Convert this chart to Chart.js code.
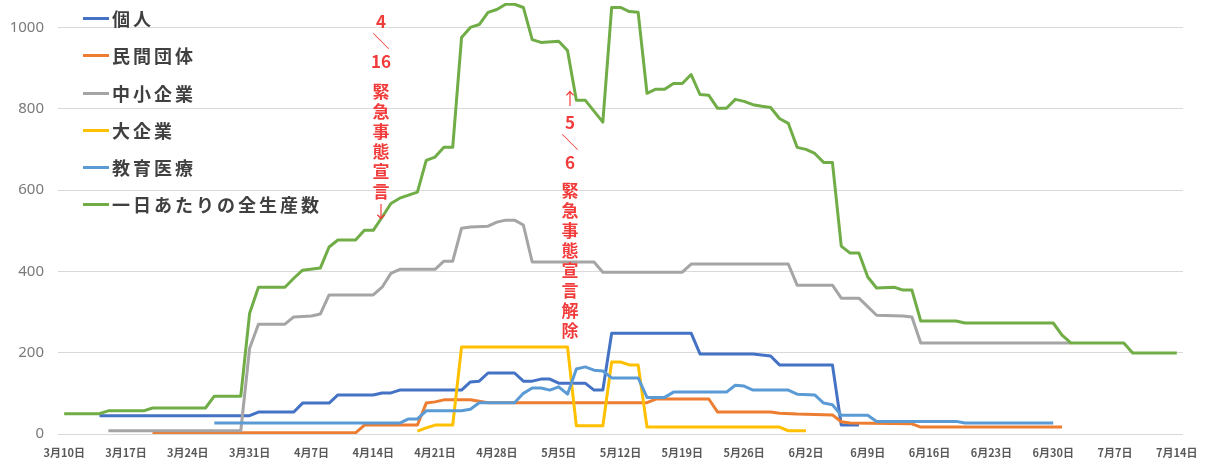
<!DOCTYPE html>
<html><head><meta charset="utf-8">
<script src="https://cdn.jsdelivr.net/npm/chart.js@4.4.1/dist/chart.umd.min.js"></script>
<style>
html,body{margin:0;padding:0;background:#fff;}
#wrap{position:relative;width:1206px;height:466px;overflow:hidden;}
#c{position:absolute;left:0;top:0;}
#legend{position:absolute;left:83px;top:0;font-family:"Noto Sans CJK JP","Noto Sans",sans-serif;font-weight:bold;font-size:18px;color:#404040;}
.row{position:absolute;left:0;height:24px;display:flex;align-items:center;white-space:nowrap;letter-spacing:3px;}
.sw{width:26px;height:3px;margin-right:3px;}
.ann{position:absolute;color:#f23c3c;font-family:"Noto Sans CJK JP","Noto Sans",sans-serif;font-weight:bold;font-size:17px;text-align:center;line-height:20px;width:40px;}
.ann .arr{font-weight:normal;}
</style></head>
<body>
<div id="wrap">
<canvas id="c" width="1206" height="466"></canvas>
<div id="legend"></div>
<div class="ann" style="left:361px;top:11px;">
  <div>4</div><div>＼</div><div>16</div><div style="height:10px"></div>
  <div>緊</div><div>急</div><div>事</div><div>態</div><div>宣</div><div>言</div><div class="arr">↓</div>
</div>
<div class="ann" style="left:550px;top:88px;">
  <div class="arr">↑</div><div style="height:4px"></div><div>5</div><div>＼</div><div>6</div><div style="height:8px"></div>
  <div>緊</div><div>急</div><div>事</div><div>態</div><div>宣</div><div>言</div><div>解</div><div>除</div>
</div>
</div>
<script>
// ---- data ----
const tickDays = [0,7,14,21,28,35,42,49,56,63,70,77,84,91,98,105,112,119,126];
const tickLabels = ['3月10日','3月17日','3月24日','3月31日','4月7日','4月14日','4月21日','4月28日','5月5日','5月12日','5月19日','5月26日','6月2日','6月9日','6月16日','6月23日','6月30日','7月7日','7月14日'];
const yTicks = [0,200,400,600,800,1000];

const seriesNames = ['個人','民間団体','中小企業','大企業','教育医療','一日あたりの全生産数'];

const individualDays = [4,21,22,26,27,30,31,35,36,37,38,45,46,47,48,51,52,53,54,55,56,59,60,61,62,71,72,78,80,81,87,88,90];
const individualVals = [45,45,54,54,76,76,96,96,101,101,108,108,128,130,150,150,130,130,135,135,125,125,108,108,248,248,197,197,192,170,170,22,22];

const privateDays = [10,33,34,40,41,42,43,46,48,66,67,73,74,80,81,83,87,88,89,96,97,113];
const privateVals = [3,3,22,22,76,79,84,84,77,77,86,86,54,54,51,49,47,30,27,25,17,17];

const smeDays = [5,20,21,22,25,26,28,29,30,35,36,37,38,42,43,44,45,46,48,49,50,51,52,53,60,61,70,71,82,83,87,88,90,92,95,96,97,114];
const smeVals = [8,8,211,270,270,288,290,295,342,342,361,395,405,405,425,425,506,509,511,521,526,526,514,423,423,398,398,418,418,366,366,334,334,292,290,288,224,224];

const largeDays = [40,41,42,44,45,57,58,61,62,63,64,65,66,81,82,84];
const largeVals = [7,15,22,22,214,214,20,20,177,177,170,170,17,17,8,8];

const eduDays = [17,38,39,40,41,45,46,47,51,52,53,54,55,56,57,58,59,60,61,62,65,66,68,69,75,76,77,78,82,83,85,86,87,88,91,92,101,102,112];
const eduVals = [27,27,37,37,57,57,61,77,77,100,113,113,108,116,98,160,165,157,155,138,138,90,90,103,103,120,118,108,108,98,96,76,72,46,46,31,31,27,27];

const totalDays = [0,4,5,9,10,16,17,20,21,22,25,26,27,29,30,31,33,34,35,36,37,38,40,41,42,43,44,45,46,47,48,49,50,51,52,53,54,56,57,58,59,61,62,63,64,65,66,67,68,69,70,71,72,73,74,75,76,77,78,79,80,81,82,83,84,85,86,87,88,89,90,91,92,94,95,96,97,101,102,112,113,114,120,121,126];
const totalVals = [50,50,57,57,64,64,93,93,297,361,361,383,403,408,460,477,477,501,501,533,567,580,595,673,681,705,705,975,1000,1007,1037,1044,1057,1057,1049,970,963,966,943,821,821,767,1049,1049,1039,1037,838,848,848,862,862,884,835,833,801,801,823,818,810,806,803,776,764,705,700,690,668,668,462,445,445,386,359,361,354,354,278,278,273,273,243,224,224,199,199];

const colors = ['#4472C4','#ED7D31','#A5A5A5','#FFC000','#5B9BD5','#70AD47'];

// ---- chart ----
const pairs = (d, v) => d.map((x, i) => ({x: x, y: v[i]}));
const allSeries = [
  pairs(individualDays, individualVals),
  pairs(privateDays, privateVals),
  pairs(smeDays, smeVals),
  pairs(largeDays, largeVals),
  pairs(eduDays, eduVals),
  pairs(totalDays, totalVals)
];

const datasets = allSeries.map((data, i) => ({
  label: seriesNames[i],
  data: data,
  borderColor: colors[i],
  backgroundColor: colors[i],
  borderWidth: 3,
  pointRadius: 0,
  tension: 0,
  fill: false,
  borderJoinStyle: 'round',
  borderCapStyle: 'butt',
  order: seriesNames.length - i
}));

const chart = new Chart(document.getElementById('c'), {
  type: 'line',
  data: { datasets: datasets },
  options: {
    responsive: false,
    animation: false,
    events: [],
    layout: { padding: { top: 3, right: 23, bottom: 0, left: 0 } },
    plugins: { legend: { display: false }, tooltip: { enabled: false } },
    scales: {
      x: {
        type: 'linear',
        min: -0.7,
        max: 126.7,
        grid: { display: false, drawTicks: false },
        border: { display: false },
        afterBuildTicks: (s) => { s.ticks = tickDays.map(v => ({ value: v })); },
        afterFit: (s) => { s.height = 32; s.paddingLeft = 0; s.paddingRight = 0; },
        ticks: {
          autoSkip: false,
          maxRotation: 0,
          padding: 12,
          color: '#595959',
          font: { family: '"Noto Sans CJK JP"', size: 11, weight: 'bold' },
          callback: (v) => { const i = tickDays.indexOf(v); return i >= 0 ? tickLabels[i] : ''; }
        }
      },
      y: {
        type: 'linear',
        min: 0,
        max: 1060,
        grid: { color: '#d9d9d9', lineWidth: 1, drawTicks: false },
        border: { display: false },
        afterBuildTicks: (s) => { s.ticks = yTicks.map(v => ({ value: v })); },
        afterFit: (s) => { s.width = 58; s.paddingTop = 0; s.paddingBottom = 0; },
        ticks: {
          padding: 14,
          color: '#7a7a7a',
          font: { family: '"Noto Sans", sans-serif', size: 15 },
          callback: (v) => String(v)
        }
      }
    }
  }
});

// ---- legend (HTML, built from the chart's datasets) ----
const legendCenters = [18,55,93,130,167,204];
const lg = document.getElementById('legend');
chart.data.datasets.forEach((ds, i) => {
  const row = document.createElement('div');
  row.className = 'row';
  row.style.top = (legendCenters[i] - 12) + 'px';
  const sw = document.createElement('span');
  sw.className = 'sw';
  sw.style.background = ds.borderColor;
  const tx = document.createElement('span');
  tx.textContent = ds.label;
  row.appendChild(sw); row.appendChild(tx);
  lg.appendChild(row);
});
</script>
</body></html>
